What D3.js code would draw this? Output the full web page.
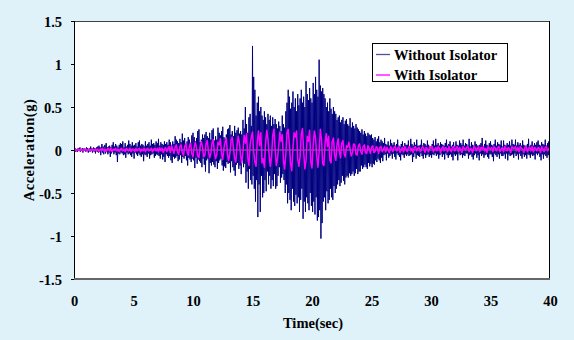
<!DOCTYPE html>
<html><head><meta charset="utf-8">
<script src="https://cdn.jsdelivr.net/npm/d3@7/dist/d3.min.js"></script>
<style>html,body{margin:0;padding:0;background:#DFF2F9;}svg{display:block;}</style>
</head><body>
<script>
// sampling intervals (s)
const dtWithout = 0.05;
const dtWith = 0.1;
const xTicks = [0,5,10,15,20,25,30,35,40];
const yTicks = [-1.5,-1,-0.5,0,0.5,1,1.5];
const seriesNames = ["Without Isolator","With Isolator"];

// Acceleration without isolator (g), one value per 0.05 s (one row per second)
const withoutIsolator = [
 .01,-.01,.02,-.02,.01,.00,-.02,.02,-.01,.01,.03,-.02,.01,-.01,.02,-.03,.01,.02,-.01,.01,
 -.02,.03,-.01,.02,-.03,.01,.02,-.02,.04,-.01,.02,-.03,.01,.03,-.02,.02,-.04,.01,.03,-.02,
 .04,-.03,.05,-.02,.03,-.06,.02,.07,-.03,.04,-.05,.03,.06,-.04,.08,-.02,.03,-.05,.04,-.03,
 .05,-.08,.03,-.04,.06,-.02,.09,-.05,.04,-.03,.07,-.06,.05,-.14,.03,-.04,.06,-.05,.08,-.03,
 .07,-.04,.10,-.06,.03,-.05,.08,-.09,.04,-.03,.06,-.05,.11,-.04,.07,-.06,.05,-.08,.09,-.04,
 .05,-.10,.06,-.03,.08,-.05,.04,-.07,.09,-.04,.11,-.06,.05,-.08,.07,-.05,.06,-.13,.04,-.05,
 .10,-.06,.05,-.08,.07,-.04,.09,-.10,.05,-.06,.12,-.05,.07,-.04,.08,-.09,.06,-.07,.10,-.05,
 .08,-.06,.13,-.07,.05,-.10,.09,-.05,.07,-.11,.06,-.08,.10,-.14,.07,-.05,.09,-.07,.06,-.09,
 .12,-.07,.09,-.12,.06,-.15,.10,-.08,.07,-.10,.16,-.09,.12,-.07,.10,-.13,.08,-.11,.13,-.06,
 .09,-.15,.19,-.08,.11,-.10,.14,-.07,.06,-.12,.10,-.18,.15,-.09,.12,-.11,.08,-.14,.17,-.10,
 .20,-.12,.15,-.21,.10,-.09,.14,-.16,.22,-.11,.24,-.13,.09,-.15,.12,-.20,.18,-.10,.14,-.17,
 .18,-.25,.21,-.12,.16,-.10,.14,-.27,.20,-.15,.12,-.18,.23,-.14,.25,-.17,.11,-.20,.16,-.13,
 .12,-.22,.26,-.15,.20,-.12,.17,-.10,.22,-.18,.27,-.24,.15,-.19,.13,-.21,.18,-.14,.24,-.16,
 .25,-.15,.29,-.26,.18,-.13,.22,-.20,.16,-.24,.28,-.30,.20,-.17,.23,-.15,.26,-.22,.19,-.18,
 .22,-.28,.18,-.12,.35,-.20,.25,-.16,.50,-.38,.30,-.25,.20,-.45,.38,-.22,.42,-.35,.28,-.40,
 1.21,-.30,.85,-.45,.70,-.60,.40,-.35,.55,-.78,.62,-.40,.45,-.72,.50,-.30,.40,-.55,.35,-.50,
 .45,-.35,.38,-.48,.30,-.25,.42,-.40,.35,-.30,.40,-.45,.28,-.35,.38,-.42,.30,-.28,.36,-.45,
 .30,-.42,.25,-.30,.33,-.20,.28,-.38,.22,-.32,.40,-.28,.30,-.35,.26,-.50,.45,-.40,.55,-.62,
 .70,-.50,.62,-.58,.48,-.70,.55,-.45,.68,-.60,.50,-.65,.60,-.52,.45,-.62,.65,-.55,.52,-.72,
 .60,-.58,.70,-.45,.55,-.80,.62,-.60,.50,-.72,.80,-.55,.65,-.62,.58,-.70,.72,-.50,.60,-.65,
 .55,-.72,.78,-.60,.65,-.75,.85,-.55,.70,-.82,.62,-.78,1.05,-.70,.75,-1.03,.68,-.85,.72,-.60,
 .65,-.55,.60,-.70,.50,-.48,.55,-.62,.45,-.58,.60,-.45,.48,-.55,.42,-.58,.50,-.42,.45,-.50,
 .42,-.45,.35,-.40,.38,-.35,.40,-.42,.32,-.38,.35,-.30,.38,-.36,.30,-.40,.34,-.32,.36,-.30,
 .30,-.32,.28,-.27,.37,-.30,.26,-.28,.32,-.25,.28,-.30,.25,-.27,.30,-.22,.26,-.28,.24,-.25,
 .22,-.25,.20,-.18,.24,-.22,.18,-.20,.22,-.17,.19,-.20,.16,-.22,.20,-.15,.18,-.19,.17,-.16,
 .18,-.20,.14,-.16,.12,-.17,.15,-.12,.10,-.14,.13,-.10,.16,-.12,.09,-.15,.12,-.09,.10,-.13,
 .08,-.06,.14,-.05,.07,-.12,.06,-.04,.10,-.09,.05,-.07,.12,-.05,.08,-.10,.06,-.04,.09,-.08,
 .05,-.11,.07,-.04,.12,-.06,.05,-.08,.04,-.12,.07,-.05,.10,-.06,.04,-.09,.08,-.05,.06,-.07,
 .06,-.05,.11,-.07,.04,-.06,.13,-.05,.07,-.14,.05,-.08,.09,-.04,.06,-.10,.12,-.06,.05,-.07,
 .05,-.08,.06,-.04,.12,-.07,.05,-.10,.08,-.05,.07,-.09,.05,-.06,.11,-.05,.06,-.08,.04,-.06,
 .04,-.09,.07,-.05,.11,-.06,.05,-.04,.13,-.07,.06,-.05,.08,-.10,.05,-.06,.09,-.04,.07,-.08,
 .06,-.05,.05,-.11,.08,-.04,.12,-.06,.05,-.09,.07,-.06,.10,-.05,.04,-.08,.06,-.12,.09,-.05,
 .04,-.07,.10,-.05,.06,-.12,.05,-.04,.11,-.06,.08,-.05,.06,-.09,.12,-.06,.05,-.07,.08,-.04,
 .07,-.04,.05,-.10,.13,-.06,.04,-.05,.09,-.08,.06,-.11,.05,-.06,.10,-.04,.07,-.09,.05,-.06,
 .05,-.12,.06,-.04,.08,-.07,.14,-.05,.04,-.09,.07,-.06,.11,-.05,.06,-.08,.05,-.10,.08,-.05,
 .10,-.05,.06,-.08,.05,-.13,.07,-.04,.12,-.06,.05,-.08,.09,-.05,.07,-.10,.06,-.04,.11,-.07,
 .04,-.07,.11,-.05,.06,-.10,.05,-.04,.08,-.12,.06,-.05,.10,-.07,.05,-.06,.12,-.05,.07,-.09,
 .06,-.04,.12,-.07,.05,-.05,.09,-.11,.06,-.04,.08,-.07,.05,-.10,.11,-.05,.06,-.08,.05,-.06,
 .05,-.10,.07,-.05,.13,-.06,.04,-.09,.06,-.05,.10,-.07,.05,-.06,.08,-.11,.06,-.04,.09,-.06,
 .11,-.04,.06,-.08,.05,-.12,.09,-.05,.07,-.10,.06,-.05,.12,-.07,.05,-.09,.08,-.06,.10,-.12,
 .03
];

// Acceleration with isolator (g), one value per 0.1 s (one row per second)
const withIsolator = [
 .00,.01,-.01,.01,.00,-.01,.01,.00,-.01,.01,
 .01,-.01,.00,.01,-.01,.01,.00,-.01,.01,.00,
 .01,-.02,.01,.00,.02,-.01,.01,-.02,.01,.02,
 -.01,.02,-.02,.01,.00,.02,-.01,.01,-.02,.01,
 .02,-.01,.01,-.02,.02,.00,-.01,.02,-.02,.01,
 .01,-.02,.02,-.01,.01,.02,-.02,.01,-.01,.02,
 -.02,.01,.02,-.01,.00,.02,-.02,.01,.02,-.01,
 .02,-.02,.03,-.01,.02,-.03,.01,.03,-.02,.02,
 .04,-.03,.05,.01,-.04,.03,.06,-.02,-.05,.04,
 .06,-.03,-.06,.04,.07,-.02,-.06,.05,.08,-.04,
 -.08,.03,.09,.02,-.07,-.09,.04,.10,.03,-.08,
 -.06,.07,.11,-.02,-.09,-.04,.08,.12,-.03,-.10,
 -.05,.09,.06,.13,-.04,-.11,.02,.09,.14,-.06,
 -.12,-.03,.11,.15,.02,-.10,-.14,.05,.16,.08,
 -.06,-.15,-.02,.17,.08,.19,-.09,-.18,.06,.15,
 .21,-.02,-.14,-.19,.10,.22,.05,.20,-.15,-.10,
 -.20,.08,.23,.12,-.06,-.19,-.08,.17,.24,.02,
 -.18,-.10,.04,.21,.10,.18,-.12,-.22,-.05,.20,
 .24,.06,-.16,-.24,.03,.20,.15,.22,-.10,-.19,
 -.08,.18,.25,-.02,-.22,-.12,.16,.10,.23,-.14,
 -.21,.05,.22,.14,-.08,-.20,-.02,.24,.12,-.16,
 -.18,.08,.19,.04,.16,-.12,-.15,.10,.14,-.06,
 -.12,.06,.13,-.02,-.09,.08,.11,-.04,-.08,.05,
 .03,.09,.01,-.07,-.03,.07,.06,-.05,-.06,.05,
 .07,-.02,-.05,.04,.06,-.03,-.04,.05,.02,-.04,
 .03,.05,-.03,-.02,.04,.02,-.04,.03,.04,-.02,
 .01,.04,-.02,.03,.00,-.03,.04,.02,-.02,.03,
 .04,-.01,.02,.04,-.03,.01,.03,-.02,.04,.01,
 -.02,.03,.04,-.01,.02,-.03,.03,.04,-.01,.02,
 .03,-.02,.01,.04,.02,-.03,.03,.01,-.02,.04,
 .02,.04,-.02,.01,.03,-.01,.04,.02,-.03,.02,
 .04,-.01,.03,.02,-.02,.04,.01,-.02,.03,.04,
 -.01,.02,.04,-.02,.03,.01,-.03,.04,.02,.00,
 .03,.04,-.02,.02,.01,-.03,.04,.03,-.01,.02,
 .04,-.02,.03,.01,.04,-.01,.02,-.03,.04,.02,
 .01,.03,-.02,.04,.02,-.01,.03,.04,-.02,.01,
 .03,-.02,.04,.02,-.01,.03,.01,-.03,.04,.02,
 .02,.04,-.01,.03,-.02,.04,.02,.01,-.03,.03,
 .04,-.02,.02,.03,-.01,.04,-.02,.03,.02,-.01,
 .03,.02,-.03,.04,.01,-.02,.03,.04,-.01,.02,
 .01
];

const W = 574, H = 340;
const svg = d3.select("body").append("svg").attr("width", W).attr("height", H);
svg.append("rect").attr("width", W).attr("height", H).attr("fill", "#DFF2F9");

const x = d3.scaleLinear().domain([0, 40]).range([74, 550]);
const y = d3.scaleLinear().domain([-1.5, 1.5]).range([279, 21]);

svg.append("rect").attr("x", 74).attr("y", 21).attr("width", 476).attr("height", 258).attr("fill", "#fff");

const font = "'Liberation Serif','Times New Roman',serif";
const fs = 14.5;

svg.append("clipPath").attr("id", "clp").append("rect")
  .attr("x", 74).attr("y", 21).attr("width", 476).attr("height", 258);

const lineOf = dt => d3.line().x((d, i) => x(i * dt)).y(d => y(d));
const g = svg.append("g").attr("clip-path", "url(#clp)");

g.append("path").datum(withoutIsolator).attr("d", lineOf(dtWithout))
  .attr("fill", "none").attr("stroke", "#000080").attr("stroke-width", 1).attr("stroke-linejoin", "round");
g.append("line").attr("x1", 74).attr("x2", 550).attr("y1", y(0)).attr("y2", y(0))
  .attr("stroke", "#808080").attr("stroke-width", 1);
g.append("path").datum(withIsolator).attr("d", lineOf(dtWith))
  .attr("fill", "none").attr("stroke", "#FF00FF").attr("stroke-width", 1.5).attr("stroke-linejoin", "round");

// axes
const xAxis = d3.axisBottom(x).tickValues(xTicks).tickSize(0).tickPadding(0).tickFormat(d3.format("d"));
const xg = svg.append("g").attr("transform", "translate(0,279)").call(xAxis);
xg.select(".domain").remove();
xg.selectAll("text").attr("y", 27).attr("dy", 0).attr("font-family", font).attr("font-weight", "bold").attr("font-size", fs).attr("fill", "#000");

const yAxis = d3.axisLeft(y).tickValues(yTicks).tickSize(3).tickPadding(9).tickFormat(d => String(d));
const yg = svg.append("g").attr("transform", "translate(74,0)").call(yAxis);
yg.select(".domain").remove();
yg.selectAll("line").attr("stroke", "#000");
yg.selectAll("text").attr("font-family", font).attr("font-weight", "bold").attr("font-size", fs).attr("fill", "#000").attr("dy", "0.35em");

// frame
svg.append("line").attr("x1", 74).attr("x2", 550).attr("y1", 21.5).attr("y2", 21.5).attr("stroke", "#404040");
svg.append("line").attr("x1", 549.5).attr("x2", 549.5).attr("y1", 21).attr("y2", 279).attr("stroke", "#000");
svg.append("line").attr("x1", 74.5).attr("x2", 74.5).attr("y1", 21).attr("y2", 280).attr("stroke", "#000");
svg.append("line").attr("x1", 74).attr("x2", 550).attr("y1", 279).attr("y2", 279).attr("stroke", "#666").attr("stroke-width", 2);

// titles
svg.append("text").attr("x", 313).attr("y", 328).attr("text-anchor", "middle")
  .attr("font-family", font).attr("font-weight", "bold").attr("font-size", fs).text("Time(sec)");
svg.append("text").attr("transform", "translate(34,150) rotate(-90)").attr("text-anchor", "middle")
  .attr("font-family", font).attr("font-weight", "bold").attr("font-size", fs).attr("letter-spacing", 0.5).text("Acceleration(g)");

// legend
const lg = svg.append("g");
lg.append("rect").attr("x", 372.5).attr("y", 43.5).attr("width", 135).attr("height", 38)
  .attr("fill", "#fff").attr("stroke", "#000").attr("stroke-width", 1);
const colors = ["#5050A0", "#FF00FF"];
seriesNames.forEach((n, i) => {
  const yy = 54.5 + i * 20.5;
  lg.append("line").attr("x1", 376).attr("x2", 390).attr("y1", yy).attr("y2", yy).attr("stroke", colors[i]).attr("stroke-width", 1.3);
  lg.append("text").attr("x", 394).attr("y", yy + 5).attr("font-family", font).attr("font-weight", "bold")
    .attr("font-size", fs).text(n);
});
</script>
</body></html>
